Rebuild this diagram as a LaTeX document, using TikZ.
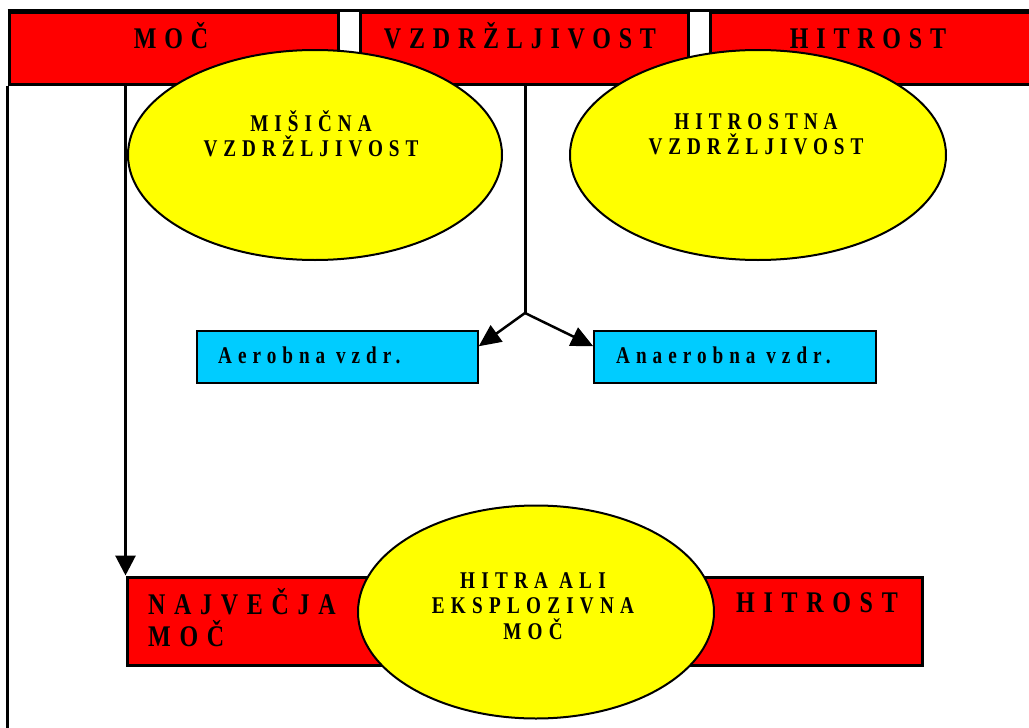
\documentclass[tikz,border=0pt]{standalone}
\usepackage{fontspec}
\setmainfont{Liberation Serif}
\newfontfamily\narrowserif[FakeStretch=0.8]{Liberation Serif}
\usetikzlibrary{shapes.geometric,arrows.meta}

\definecolor{barred}{HTML}{FF0000}
\definecolor{ellyellow}{HTML}{FFFF00}
\definecolor{boxcyan}{HTML}{00CCFF}

\tikzset{
  bar/.style={draw, line width=3pt, fill=barred, inner sep=0pt},
  ell/.style={ellipse, draw, line width=2pt, fill=ellyellow, inner sep=0pt},
  aerobox/.style={draw, line width=1.5pt, fill=boxcyan, inner sep=0pt},
  toplbl/.style={inner sep=0pt, anchor=base,
    font=\narrowserif\fontsize{30}{34}\selectfont\bfseries\addfontfeature{LetterSpace=26}},
  elllbl/.style={inner sep=0pt, align=center,
    font=\narrowserif\fontsize{24}{25}\selectfont\bfseries\addfontfeature{LetterSpace=25}},
  boxlbl/.style={inner sep=0pt, anchor=base west,
    font=\narrowserif\fontsize{24}{26}\selectfont\bfseries\addfontfeature{LetterSpace=25}},
  botlbl/.style={inner sep=0pt, align=left,
    font=\narrowserif\fontsize{30}{32}\selectfont\bfseries\addfontfeature{LetterSpace=29}},
  eksplbl/.style={inner sep=0pt, align=center,
    font=\narrowserif\fontsize{24}{25.5}\selectfont\bfseries\addfontfeature{LetterSpace=26}},
  thickline/.style={line width=3pt},
  branch/.style={line width=2.5pt, -{Triangle[length=22pt,width=20pt]}},
}

\begin{document}
\begin{tikzpicture}[x=1pt,y=-1pt]
\useasboundingbox (0,0) rectangle (1029,728);

\node[bar, minimum width=329pt, minimum height=72pt] (moc) at (173.5,48) {};
\node[bar, minimum width=328pt, minimum height=72pt] (vz) at (524,48) {};
\node[bar, minimum width=330pt, minimum height=72pt] (hit) at (875,48) {};
\draw[thickline] (moc.north west) -- (hit.north east);

\node[bar, minimum width=795pt, minimum height=88pt] (najv) at (524.5,621) {};

\node[aerobox, minimum width=281pt, minimum height=52pt] (aer) at (337.5,357) {};
\node[aerobox, minimum width=282pt, minimum height=52pt] (anaer) at (735,357) {};

\node[ell, minimum width=374pt, minimum height=210pt] (misic) at (315,155) {};
\node[ell, minimum width=376pt, minimum height=210pt] (hitvz) at (758,155) {};
\node[ell, minimum width=356pt, minimum height=213pt] (ekspl) at (536,612) {};

\coordinate (split) at (525,313);
\coordinate (bottom) at (9,728);

\draw[thickline] (moc.south west) -- (moc.south west |- bottom);
\draw[thickline, -{Triangle[length=20pt,width=20pt]}] (najv.north west |- moc.south) -- (najv.north west);
\draw[thickline] (split |- vz.south) -- (split);
\draw[branch] (split) -- ([yshift=-16pt]aer.north east);
\draw[branch] (split) -- ([yshift=-16pt]anaer.north west);

\node[toplbl] (tmoc) at (171,48) {MOČ};
\node[toplbl] (tvz) at (520,48) {VZDRŽLJIVOST};
\node[toplbl] (thit) at (868,48) {HITROST};

\node[elllbl] (tmisic) at (311,134) {MIŠIČNA\\VZDRŽLJIVOST};
\node[elllbl] (thitvz) at (756,134) {HITROSTNA\\VZDRŽLJIVOST};

\node[boxlbl] (taer) at (218,363) {Aerobna vzdr.};
\node[boxlbl] (tanaer) at (616,363) {Anaerobna vzdr.};

\node[botlbl, anchor=west] (tnajv) at (148,618) {NAJVEČJA\\MOČ};
\node[botlbl, anchor=base] (tbhit) at (817,612) {HITROST};
\node[eksplbl] (tekspl) at (533,606) {HITRA ALI\\EKSPLOZIVNA\\MOČ};
\end{tikzpicture}
\end{document}
